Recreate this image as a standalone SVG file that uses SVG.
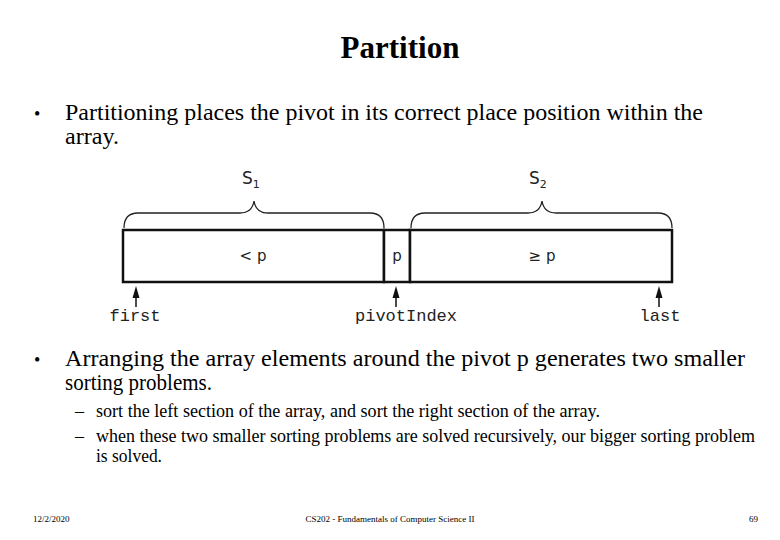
<svg xmlns="http://www.w3.org/2000/svg" width="780" height="540" viewBox="0 0 780 540">
<defs>
<style>
.serif{font-family:"Liberation Serif","Times New Roman",serif;fill:#000}
.sans{font-family:"DejaVu Sans","Liberation Sans",sans-serif;fill:#222}
.mono{font-family:"Liberation Mono","Courier New",monospace;fill:#222}
.box{fill:#fff;stroke:#111;stroke-width:2.5}
.brace{fill:none;stroke:#222;stroke-width:1.3}
.arr{stroke:#111;stroke-width:1.5;fill:none}
.head{fill:#111}
.foot{font-family:"Liberation Serif",serif;font-size:9px;fill:#000}
</style>
</defs>
<rect width="780" height="540" fill="#fff"/>
<text class="serif" x="400" y="58" font-size="31" font-weight="bold" text-anchor="middle">Partition</text>
<g id="bullet1" class="serif" font-size="24">
<text x="34" y="120" font-size="18">•</text>
<text x="65" y="120" textLength="638" lengthAdjust="spacingAndGlyphs">Partitioning places the pivot in its correct place position within the</text>
<text x="65" y="144" textLength="54" lengthAdjust="spacingAndGlyphs">array.</text>
</g>
<g id="array">
<g id="cell-less"><rect class="box" x="123" y="230" width="261" height="52"/><text class="sans" x="253" y="261" font-size="15" text-anchor="middle">&lt; p</text></g>
<g id="cell-pivot"><rect class="box" x="384" y="230" width="26" height="52"/><text class="sans" x="397" y="261" font-size="15" text-anchor="middle">p</text></g>
<g id="cell-ge"><rect class="box" x="410" y="230" width="262" height="52"/><text class="sans" x="542" y="261" font-size="15" text-anchor="middle">≥ p</text></g>
</g>
<g id="s1">
<path class="brace" d="M124,228 Q124,213 138,213 L240,213 Q252,213 254,201 Q256,213 268,213 L370,213 Q384,213 384,228"/>
<text class="sans" x="242" y="184" font-size="17">S<tspan font-size="11" dy="4">1</tspan></text>
</g>
<g id="s2">
<path class="brace" d="M411,228 Q411,213 425,213 L528,213 Q540,213 542,201 Q544,213 556,213 L658,213 Q672,213 672,228"/>
<text class="sans" x="529" y="184" font-size="17">S<tspan font-size="11" dy="4">2</tspan></text>
</g>
<g id="connectors">
<line class="arr" x1="136" y1="307" x2="136" y2="296"/>
<path class="head" d="M136,286 L139.5,298 L132.5,298 Z"/>
<line class="arr" x1="396" y1="307" x2="396" y2="296"/>
<path class="head" d="M396,286 L399.5,298 L392.5,298 Z"/>
<line class="arr" x1="659" y1="307" x2="659" y2="296"/>
<path class="head" d="M659,286 L662.5,298 L655.5,298 Z"/>
</g>
<g id="labels" font-size="17">
<text class="mono" x="135" y="321" text-anchor="middle">first</text>
<text class="mono" x="406" y="321" text-anchor="middle">pivotIndex</text>
<text class="mono" x="660" y="321" text-anchor="middle">last</text>
</g>
<g id="bullet2" class="serif" font-size="24">
<text x="34" y="366" font-size="18">•</text>
<text x="65" y="366" textLength="680" lengthAdjust="spacingAndGlyphs">Arranging the array elements around the pivot p generates two smaller</text>
<text x="65" y="390" textLength="147" lengthAdjust="spacingAndGlyphs">sorting problems.</text>
</g>
<g id="sub" class="serif" font-size="18">
<text x="75" y="417">–</text>
<text x="96" y="417" textLength="504" lengthAdjust="spacingAndGlyphs">sort the left section of the array, and sort the right section of the array.</text>
<text x="75" y="442">–</text>
<text x="96" y="442" textLength="659" lengthAdjust="spacingAndGlyphs">when these two smaller sorting problems are solved recursively, our bigger sorting problem</text>
<text x="96" y="462" textLength="66" lengthAdjust="spacingAndGlyphs">is solved.</text>
</g>
<g id="footer">
<text class="foot" x="33" y="522">12/2/2020</text>
<text class="foot" x="390" y="522" text-anchor="middle">CS202 - Fundamentals of Computer Science II</text>
<text class="foot" x="758" y="522" text-anchor="end">69</text>
</g>
</svg>
